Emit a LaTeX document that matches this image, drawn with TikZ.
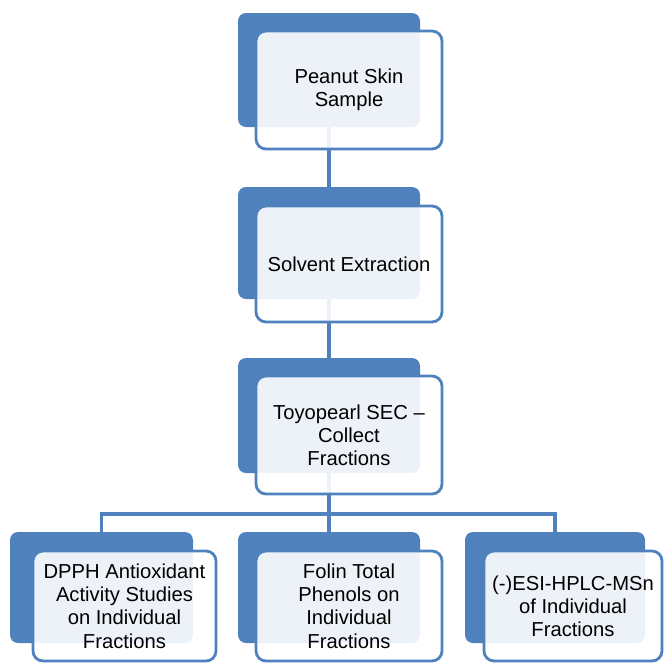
\documentclass[tikz,border=0pt]{standalone}
\usepackage{fontspec}
\setmainfont{Liberation Sans}
\definecolor{sablue}{HTML}{4F81BD}
\tikzset{
  backbox/.style={rectangle, rounded corners=8pt, fill=sablue, draw=none, inner sep=0pt, outer sep=0pt},
  frontbox/.style={rectangle, rounded corners=10pt, fill=white, fill opacity=0.9, text opacity=1, draw=sablue, draw opacity=1, line width=2.8pt, inner sep=0pt, outer sep=0pt, align=center, text=black, font=\fontsize{20.2}{23.2}\selectfont},
  link/.style={draw=sablue, line width=3.2pt}
}
\begin{document}
\begin{tikzpicture}[x=1pt,y=-1pt]
\useasboundingbox (0,0) rectangle (664,665);
% coordinates for connectors
\coordinate (c1) at (329,70);
\coordinate (c2) at (329,243);
\coordinate (c3) at (329,415);
\coordinate (j) at (329,514);
\coordinate (jl) at (101.5,514);
\coordinate (jr) at (555,514);
\coordinate (c4) at (101.5,587);
\coordinate (c5) at (329,587);
\coordinate (c6) at (555,587);
% connectors (behind the boxes)
\draw[link] (c1) -- (c2);
\draw[link] (c2) -- (c3);
\draw[link] (c3) -- (j);
\draw[link] (c4) -- (jl) -- (jr) -- (c6);
\draw[link] (j) -- (c5);
% back boxes
\node[backbox, minimum width=182pt, minimum height=114pt] (b1) at (329,70) {};
\node[backbox, minimum width=182pt, minimum height=112pt] (b2) at (329,243) {};
\node[backbox, minimum width=182pt, minimum height=115pt] (b3) at (329,415.5) {};
\node[backbox, minimum width=183pt, minimum height=111pt] (b4) at (101.5,587.5) {};
\node[backbox, minimum width=182pt, minimum height=111pt] (b5) at (329,587.5) {};
\node[backbox, minimum width=180pt, minimum height=111pt] (b6) at (555,587.5) {};
% front boxes
\node[frontbox, minimum width=186pt, minimum height=118pt] (f1) at (349,90) {Peanut Skin\\Sample};
\node[frontbox, minimum width=186pt, minimum height=116pt] (f2) at (349,264) {Solvent Extraction};
\node[frontbox, minimum width=186pt, minimum height=118pt] (f3) at (349,435) {Toyopearl SEC –\\Collect\\Fractions};
\node[frontbox, minimum width=183pt, minimum height=110pt] (f4) at (124.5,606) {DPPH Antioxidant\\Activity Studies\\on Individual\\Fractions};
\node[frontbox, minimum width=186pt, minimum height=110pt] (f5) at (349,606) {Folin Total\\Phenols on\\Individual\\Fractions};
\node[frontbox, minimum width=178pt, minimum height=110pt] (f6) at (573,606) {(-)ESI-HPLC-MSn\\of Individual\\Fractions};
\end{tikzpicture}
\end{document}
